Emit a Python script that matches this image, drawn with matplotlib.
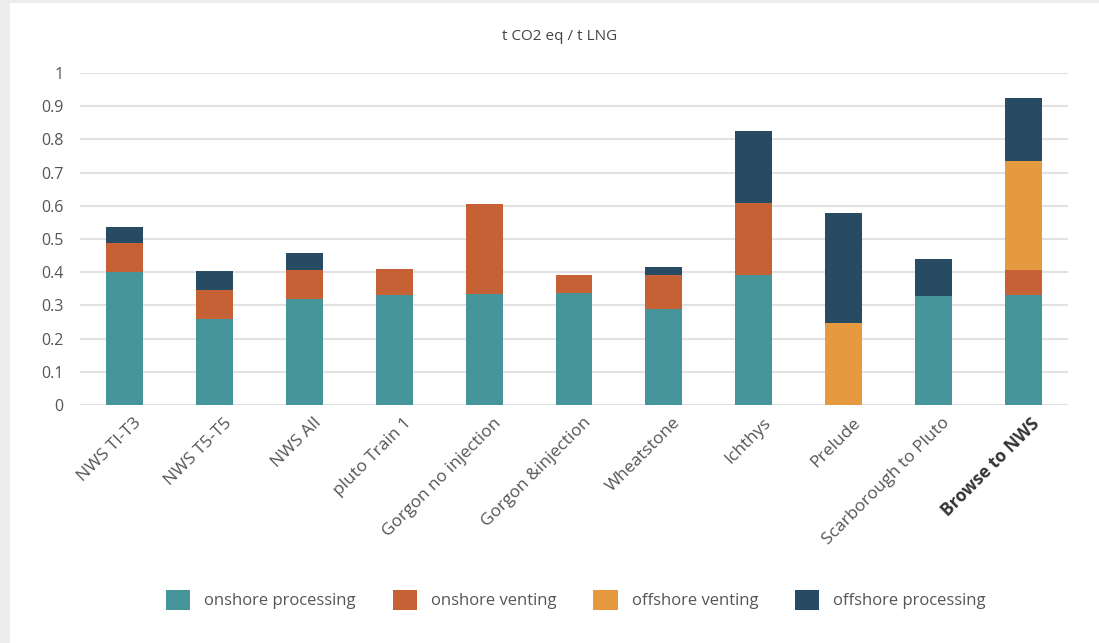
import numpy as np
import matplotlib.pyplot as plt
import matplotlib.transforms as mtransforms
from matplotlib.patches import Rectangle

plt.rcParams['font.family'] = ['Open Sans', 'DejaVu Sans']

projects = ['NWS TI-T3', 'NWS T5-T5', 'NWS All', 'pluto Train 1', 'Gorgon no injection',
            'Gorgon &injection', 'Wheatstone', 'Ichthys', 'Prelude', 'Scarborough to Pluto',
            'Browse to NWS']
onshore_processing = [0.40, 0.259, 0.319, 0.330, 0.334, 0.337, 0.290, 0.393, 0.0, 0.328, 0.330]
onshore_venting = [0.089, 0.088, 0.089, 0.080, 0.270, 0.054, 0.103, 0.216, 0.0, 0.0, 0.078]
offshore_venting = [0.0, 0.0, 0.0, 0.0, 0.0, 0.0, 0.0, 0.0, 0.246, 0.0, 0.326]
offshore_processing = [0.048, 0.056, 0.051, 0.0, 0.0, 0.0, 0.022, 0.217, 0.332, 0.111, 0.191]

series = ['onshore processing', 'onshore venting', 'offshore venting', 'offshore processing']
colors = ['#46959a', '#c66136', '#e69a3f', '#264b63']

fig = plt.figure(figsize=(10.99, 6.43), dpi=100)
fig.patch.set_facecolor('#ededed')
fig.add_artist(Rectangle((10 / 1099, 0), 1, 1 - 3 / 643, transform=fig.transFigure,
                         facecolor='white', edgecolor='none', zorder=0))

ax = fig.add_axes([80 / 1099, 1 - 405 / 643, 988 / 1099, 332 / 643])
ax.set_facecolor('none')

x = np.arange(len(projects))
bottom = np.zeros(len(projects))
for vals, name, c in zip([onshore_processing, onshore_venting, offshore_venting, offshore_processing],
                         series, colors):
    ax.bar(x, vals, 0.41, bottom=bottom, color=c, label=name, zorder=3)
    bottom += np.array(vals)

ax.set_xlim(-0.5, len(projects) - 0.5)
ax.set_ylim(0, 1)
ax.set_yticks(np.arange(0, 1.01, 0.1))
ax.set_yticklabels(['0', '0.1', '0.2', '0.3', '0.4', '0.5', '0.6', '0.7', '0.8', '0.9', '1'])
ax.grid(axis='y', color='#e2e2e2', linewidth=1.5, zorder=0)
for s in ax.spines.values():
    s.set_visible(False)
ax.tick_params(axis='both', length=0, labelsize=11.5, labelcolor='#555555')
ax.tick_params(axis='y', pad=12)

ax.set_xticks(x)
ax.set_xticklabels(projects, rotation=45, ha='right', va='top', fontsize=12.5)
ax.get_xticklabels()[-1].set_fontweight('bold')
ax.get_xticklabels()[-1].set_color('#333333')
shift = mtransforms.ScaledTranslation(20 / 100, -5 / 100, fig.dpi_scale_trans)
for lab in ax.get_xticklabels():
    lab.set_transform(lab.get_transform() + shift)

fig.text(560 / 1099, 1 - 37 / 643, 't CO2 eq / t LNG', ha='center', va='center',
         fontsize=11, color='#444444')

fig.legend(loc='center', bbox_to_anchor=(576 / 1099, 1 - 600 / 643), ncol=4, frameon=False,
           fontsize=12, handlelength=1.45, handleheight=1.55, handletextpad=0.85,
           columnspacing=2.2, labelcolor='#555555')

fig.savefig('out.png', dpi=100, facecolor=fig.get_facecolor())
